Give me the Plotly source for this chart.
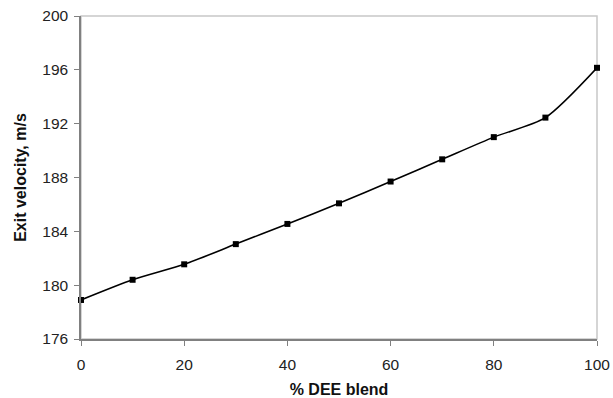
import plotly.graph_objects as go

dee_blend = [0, 10, 20, 30, 40, 50, 60, 70, 80, 90, 100]
exit_velocity = [178.9, 180.4, 181.55, 183.05, 184.55, 186.08, 187.7, 189.35, 191.0, 192.45, 196.15]
x_ticks = [0, 20, 40, 60, 80, 100]
y_ticks = [176, 180, 184, 188, 192, 196, 200]

fig = go.Figure()
fig.add_trace(go.Scatter(
    x=dee_blend, y=exit_velocity, mode="lines+markers",
    line=dict(color="black", width=1.6, shape="spline", smoothing=0.7),
    marker=dict(symbol="square", size=6, color="black"),
    showlegend=False, cliponaxis=False,
))

font_family = "Liberation Sans, Arial, sans-serif"
fig.update_layout(
    width=613, height=398,
    margin=dict(l=81, r=16, t=16, b=59),
    paper_bgcolor="white", plot_bgcolor="white",
    font=dict(family=font_family, size=15.5, color="#222222"),
    shapes=[dict(type="rect", xref="paper", yref="paper", x0=0, y0=0, x1=1, y1=1,
                 line=dict(color="#c8c8c8", width=1.5), layer="below")],
)
fig.update_xaxes(
    range=[0, 100], tickvals=x_ticks, showgrid=False, zeroline=False,
    showline=True, linecolor="#808080", linewidth=1.5, automargin=False,
    ticks="outside", ticklen=5, tickcolor="#808080", ticklabelstandoff=6,
    title=dict(text="<b>% DEE blend</b>", font=dict(size=16, color="#111111"), standoff=15),
)
fig.update_yaxes(
    range=[176, 200], tickvals=y_ticks, showgrid=False, zeroline=False,
    showline=True, linecolor="#808080", linewidth=1.5, automargin=False,
    ticks="outside", ticklen=5, tickcolor="#808080", ticklabelstandoff=3,
    title=dict(text="<b>Exit velocity, m/s</b>", font=dict(size=16, color="#111111"), standoff=12),
)
fig.write_html("out.html")
